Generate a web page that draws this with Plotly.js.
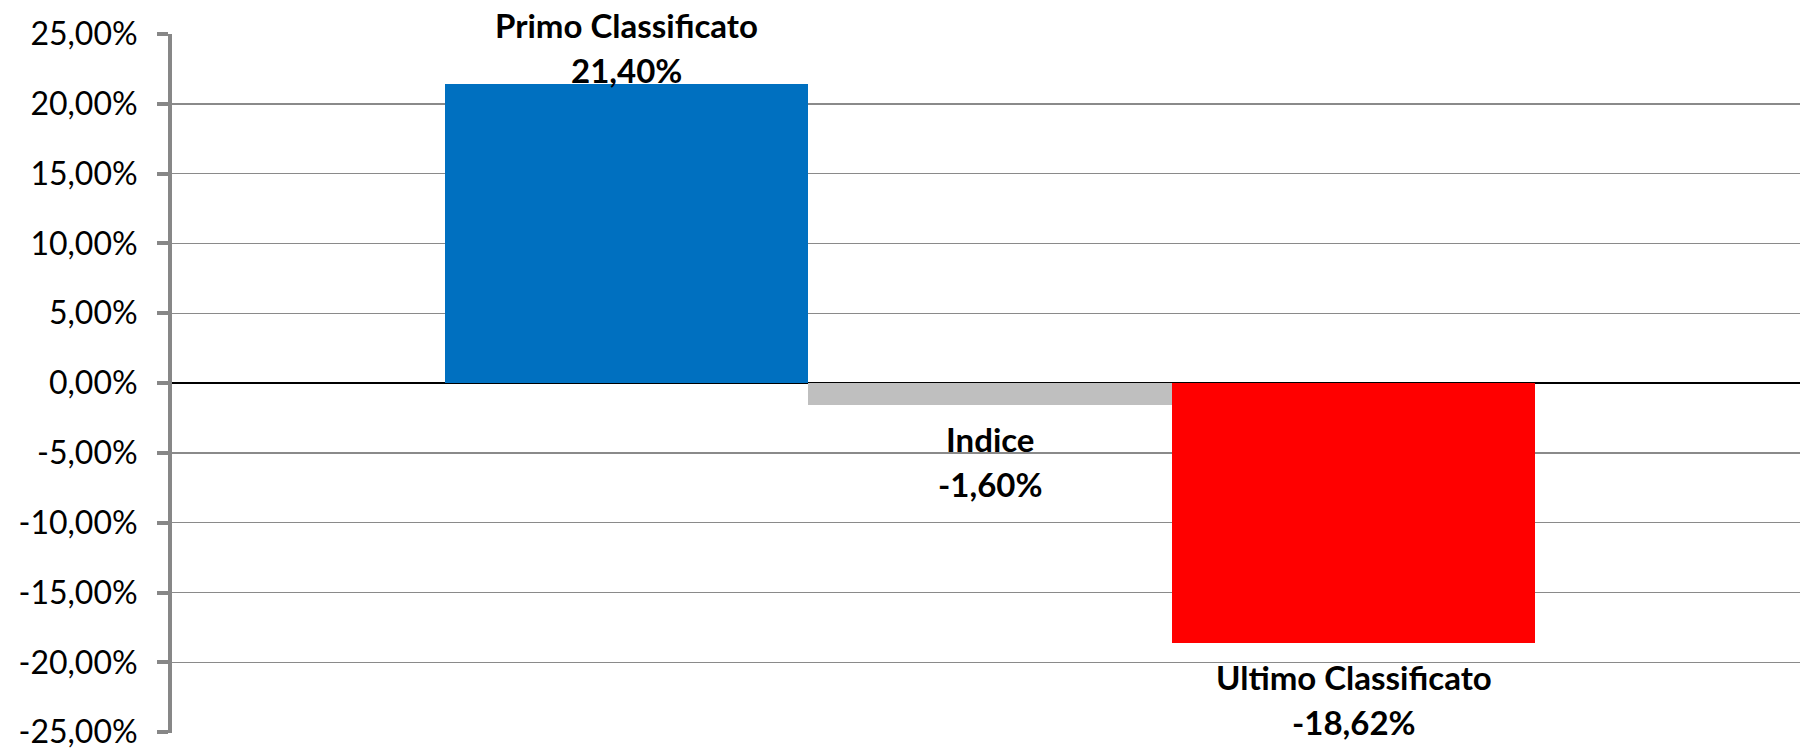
<!DOCTYPE html>
<html>
<head>
<meta charset="utf-8">
<script src="https://cdn.plot.ly/plotly-3.0.1.min.js"></script>
<style>html,body{margin:0;padding:0;background:#fff;}#chart{width:1800px;height:751px;}</style>
</head>
<body>
<div id="chart"></div>
<script>
// Data
const categories = ['Primo Classificato', 'Indice', 'Ultimo Classificato'];
const values = [21.40, -1.60, -18.62];
const barColors = ['#0070C0', '#BFBFBF', '#FF0000'];
const tickVals = [25, 20, 15, 10, 5, 0, -5, -10, -15, -20, -25];
const tickText = ['25,00%', '20,00%', '15,00%', '10,00%', '5,00%', '0,00%', '-5,00%', '-10,00%', '-15,00%', '-20,00%', '-25,00%'];

function fmt(v) { return v.toFixed(2).replace('.', ',') + '%'; }

const trace = {
  type: 'bar',
  x: categories,
  y: values,
  marker: { color: barColors, line: { width: 0 } },
  hoverinfo: 'skip'
};

const labelFont = { family: 'Lato, "Open Sans", sans-serif', size: 33, color: '#000', weight: 'bold' };
const annotations = [];
categories.forEach((c, i) => {
  const pos = values[i] >= 0;
  annotations.push({
    x: c, y: values[i], xref: 'x', yref: 'y',
    text: '<b>' + c + '</b>', showarrow: false,
    font: labelFont, yanchor: 'middle',
    yshift: pos ? 59 : -34
  });
  annotations.push({
    x: c, y: values[i], xref: 'x', yref: 'y',
    text: '<b>' + fmt(values[i]) + '</b>', showarrow: false,
    font: labelFont, yanchor: 'middle',
    yshift: pos ? 14 : -79
  });
});

const layout = {
  width: 1800, height: 751,
  margin: { l: 172, r: 0, t: 34, b: 18, pad: 0 },
  paper_bgcolor: '#fff', plot_bgcolor: '#fff',
  showlegend: false,
  bargap: 0,
  xaxis: {
    type: 'category',
    range: [-1.25, 3.228],
    showticklabels: false, showgrid: false, zeroline: false,
    showline: false, ticks: ''
  },
  yaxis: {
    range: [-25.06, 25],
    tickvals: tickVals, ticktext: tickText,
    showgrid: true, gridcolor: '#8a8a8a', gridwidth: 1.5,
    zeroline: true, zerolinecolor: '#000', zerolinewidth: 2,
    showline: true, linecolor: '#878787', linewidth: 4,
    ticks: 'outside', ticklen: 11, tickwidth: 4, tickcolor: '#878787',
    ticklabelstandoff: 13,
    ticklabeloverflow: 'allow',
    tickfont: { family: 'Lato, "Open Sans", sans-serif', size: 32, color: '#000' }
  },
  annotations: annotations
};

Plotly.newPlot('chart', [trace], layout, { displayModeBar: false, staticPlot: true });
</script>
</body>
</html>
